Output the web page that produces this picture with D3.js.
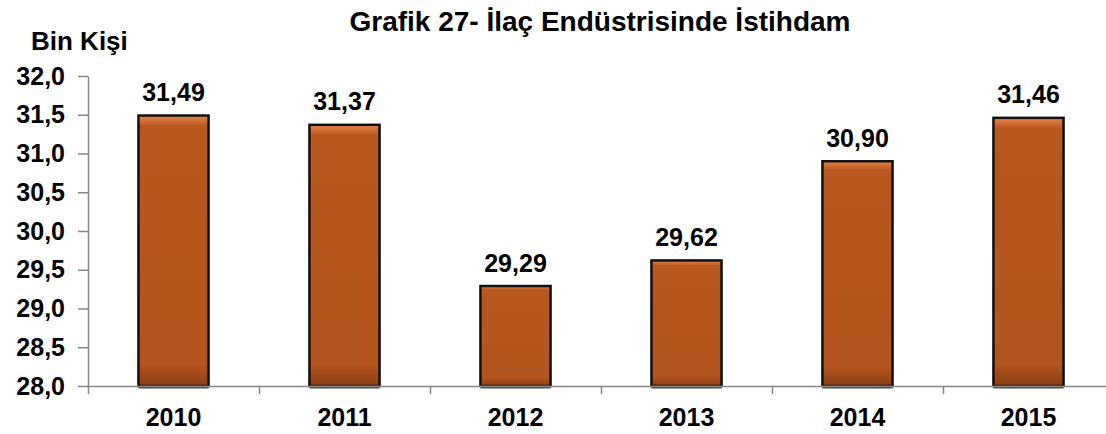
<!DOCTYPE html>
<html>
<head>
<meta charset="utf-8">
<script src="https://cdn.jsdelivr.net/npm/d3@7"></script>
<style>
    body { margin: 0; background: #fff; }
    text { font-family: "Liberation Sans", Arial, sans-serif; font-weight: bold; fill: #000; }
</style>
</head>
<body>
<div id="chart-container"></div>
<script>
// data
const years = ['2010', '2011', '2012', '2013', '2014', '2015'];
const employment = [31.49, 31.37, 29.29, 29.62, 30.90, 31.46];
const yTicks = [28.0, 28.5, 29.0, 29.5, 30.0, 30.5, 31.0, 31.5, 32.0];

const width = 1106, height = 434;
const margin = { top: 76, right: -8, bottom: 48, left: 88 };
const fmt = v => d3.format('.1f')(v).replace('.', ',');
const fmt2 = v => d3.format('.2f')(v).replace('.', ',');

const svg = d3.select('#chart-container')
    .append('svg')
    .attr('width', width)
    .attr('height', height);

const defs = svg.append('defs');
const grad = defs.append('linearGradient')
    .attr('id', 'barGrad')
    .attr('x1', 0).attr('y1', 0).attr('x2', 0).attr('y2', 1);
grad.append('stop').attr('offset', '0%').attr('stop-color', '#e8844c');
grad.append('stop').attr('offset', '4%').attr('stop-color', '#b8581f');
grad.append('stop').attr('offset', '92%').attr('stop-color', '#b4541e');
grad.append('stop').attr('offset', '100%').attr('stop-color', '#8a3e14');

const xScale = d3.scaleBand()
    .domain(years)
    .range([margin.left, width - margin.right])
    .paddingInner(0.59)
    .paddingOuter(0.295);

const yScale = d3.scaleLinear()
    .domain([28, 32])
    .range([height - margin.bottom, margin.top]);

// title
svg.append('text')
    .attr('x', 600)
    .attr('y', 31)
    .attr('text-anchor', 'middle')
    .style('font-size', '28px')
    .text('Grafik 27- İlaç Endüstrisinde İstihdam');

svg.append('text')
    .attr('x', 31)
    .attr('y', 50)
    .style('font-size', '26px')
    .text('Bin Kişi');

// y axis
const yAxis = svg.append('g')
    .attr('transform', `translate(${margin.left},0)`)
    .call(d3.axisLeft(yScale).tickValues(yTicks).tickFormat(fmt).tickSize(10).tickSizeOuter(0).tickPadding(13));
yAxis.selectAll('path, line').attr('stroke', '#868686').attr('stroke-width', 1.5);
yAxis.selectAll('text').style('font-size', '25px').style('font-family', '"Liberation Sans", Arial, sans-serif').attr('fill', '#000');

// bars
const bars = svg.append('g');
bars.selectAll('rect')
    .data(employment)
    .join('rect')
    .attr('x', (d, i) => xScale(years[i]))
    .attr('y', d => yScale(d))
    .attr('width', xScale.bandwidth())
    .attr('height', d => yScale(28) - yScale(d))
    .attr('fill', 'url(#barGrad)')
    .attr('stroke', '#111')
    .attr('stroke-width', 2.5);

// x axis
const xAxisScale = d3.scaleLinear().domain([0, years.length]).range([margin.left, width - margin.right]);
const xAxis = svg.append('g')
    .attr('transform', `translate(0,${yScale(28)})`)
    .call(d3.axisBottom(xAxisScale).ticks(years.length).tickFormat('').tickSize(8).tickSizeOuter(0));
xAxis.selectAll('path, line').attr('stroke', '#868686').attr('stroke-width', 1.5);

// bar bottom shade
bars.selectAll('line.base')
    .data(employment)
    .join('line')
    .attr('class', 'base')
    .attr('x1', (d, i) => xScale(years[i]))
    .attr('x2', (d, i) => xScale(years[i]) + xScale.bandwidth())
    .attr('y1', yScale(28) + 1)
    .attr('y2', yScale(28) + 1)
    .attr('stroke', '#444')
    .attr('stroke-width', 3);

svg.append('g')
    .selectAll('text')
    .data(years)
    .join('text')
    .attr('x', d => xScale(d) + xScale.bandwidth() / 2)
    .attr('y', 426)
    .attr('text-anchor', 'middle')
    .style('font-size', '25px')
    .text(d => d);

// value labels
svg.append('g')
    .selectAll('text')
    .data(employment)
    .join('text')
    .attr('x', (d, i) => xScale(years[i]) + xScale.bandwidth() / 2)
    .attr('y', d => yScale(d) - 14.5)
    .attr('text-anchor', 'middle')
    .style('font-size', '25px')
    .text(d => fmt2(d));
</script>
</body>
</html>
